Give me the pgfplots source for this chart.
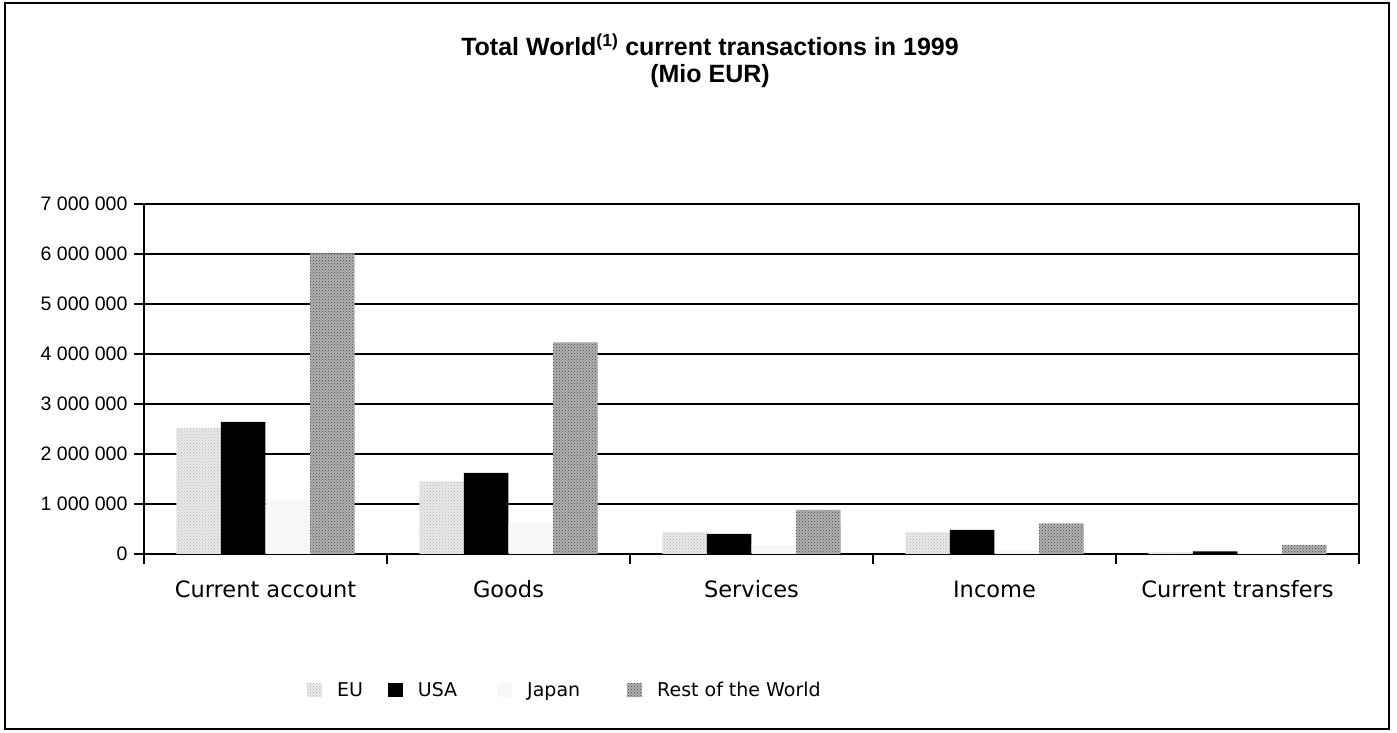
\documentclass[border=0pt]{standalone}
\usepackage{pgfplots}
\pgfplotsset{compat=1.18}
\usepackage{pgfplotstable}
\usepackage{fontspec}
\setmainfont{Liberation Sans}
\newfontfamily\catfont{DejaVu Sans}
\usetikzlibrary{patterns}

% Mio EUR, 1999
\pgfplotstableread{
cat eu      usa     japan   row
0   2520000 2640000 1080000 6010000
1   1450000 1620000 620000  4230000
2   430000  400000  170000  880000
3   430000  480000  60000   610000
4   30000   50000   20000   180000
}\trans

\begin{document}
\begin{tikzpicture}
\useasboundingbox (0,0) rectangle (1397pt,733pt);
\draw[line width=2.5pt] (5pt,4pt) rectangle (1389pt,730pt);
\node[font=\bfseries\fontsize{25}{27}\selectfont, align=center] at (710pt,672pt)
  {Total World\textsuperscript{(1)} current transactions in 1999\\(Mio EUR)};

\begin{axis}[
  at={(144pt,179pt)}, anchor=south west,
  width=1215pt, height=350pt, scale only axis,
  xmin=-0.5, xmax=4.5, ymin=0, ymax=7000000,
  ybar,
  ytick={0,1000000,2000000,3000000,4000000,5000000,6000000,7000000},
  scaled y ticks=false,
  yticklabel style={/pgf/number format/fixed,
    /pgf/number format/1000 sep={\ },
    /pgf/number format/assume math mode=true},
  y tick label style={font=\fontsize{19.5}{21}\selectfont, xshift=-3pt},
  xtick={-0.5,0.5,1.5,2.5,3.5,4.5},
  xticklabels={Current account, Goods, Services, Income, Current transfers, {}},
  x tick label style={font=\catfont\fontsize{22.5}{26}\selectfont,
    text height=17pt, text depth=5pt, xshift=121.5pt, yshift=-13pt},
  ymajorgrids, grid style={black, line width=1.6pt},
  axis line style={black, line width=1.6pt},
  tick style={black, line width=1.4pt},
  major tick length=10pt, tick align=outside,
  ytick pos=left, xtick pos=bottom,
  myleg/.style={legend image code/.code={\path[##1] (0pt,-7pt) rectangle (15pt,7pt);}},
  legend columns=4,
  legend style={draw=none, fill=none, at={(0.134,-0.389)}, anchor=west,
    inner sep=0pt, nodes={inner xsep=0pt},
    font=\catfont\fontsize{19}{22}\selectfont,
    /tikz/every odd column/.append style={column sep=15pt}},
]
\addplot[bar width=0.183, bar shift=-0.275, draw=none, fill=gray!18,
  postaction={pattern=crosshatch dots, pattern color=gray!55}, myleg]
  table[x=cat, y=eu] {\trans};
\addplot[bar width=0.183, bar shift=-0.092, draw=none, fill=black, myleg]
  table[x=cat, y=usa] {\trans};
\addplot[bar width=0.183, bar shift=0.092, draw=none, fill=gray!6, myleg]
  table[x=cat, y=japan] {\trans};
\addplot[bar width=0.183, bar shift=0.275, draw=none, fill=gray!62,
  postaction={pattern=crosshatch dots, pattern color=black!70}, myleg]
  table[x=cat, y=row] {\trans};
\legend{EU\rule{25pt}{0pt}, USA\rule{40pt}{0pt}, Japan\rule{47pt}{0pt}, Rest of the World}
\end{axis}
\end{tikzpicture}
\end{document}
